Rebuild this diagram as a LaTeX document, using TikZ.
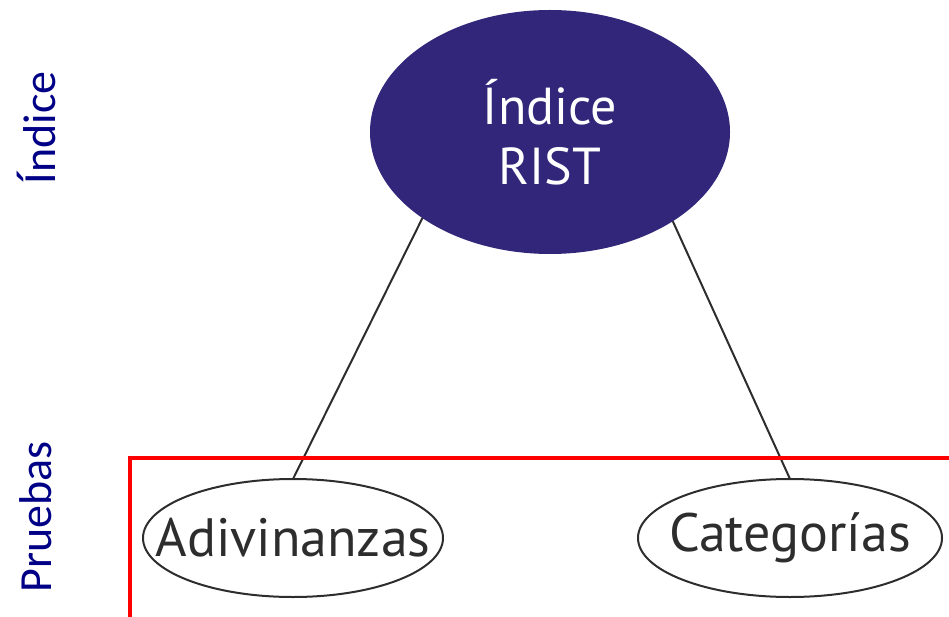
\documentclass[tikz,border=0pt]{standalone}
\usepackage{fontspec}
\setmainfont{PT Sans}
\newfontfamily\lblfont{Carlito}
\usepackage{tikz}
\usetikzlibrary{shapes.geometric}
\usepackage{xcolor}
\definecolor{ristblue}{RGB}{49,38,121}
\definecolor{lblnavy}{RGB}{0,0,135}
\definecolor{testgray}{RGB}{45,45,45}

\begin{document}
\begin{tikzpicture}[x=1pt,y=-1pt]

\tikzset{
topnode/.style = {ellipse, fill=ristblue, text=white, outer sep=0pt, inner sep=0pt,
	minimum width=360pt, minimum height=244pt, align=center,
	font=\fontsize{52}{60}\selectfont},
testnode/.style = {ellipse, draw=testgray, line width=2pt, text=testgray, outer sep=0pt,
	inner xsep=-40pt, inner ysep=0pt, minimum height=118pt, font=\fontsize{54}{60}\selectfont},
sidelabel/.style = {rotate=90, text=lblnavy, font=\lblfont\fontsize{46}{50}\selectfont}
}

\def\lwlink{2pt}
\def\lwbox{4.5pt}

\useasboundingbox (0,0) rectangle (949,617);

%\draw [help lines,step=50] (0,0) grid (949,617);

\node[sidelabel] (lblindice) at (36,128) {Índice};
\node[sidelabel] (lblpruebas) at (36,517) {Pruebas};

\node[topnode] (rist) at (550,132) {Índice\\RIST};

\node[testnode, minimum width=300pt] (adiv) at (293,538) {Adivinanzas};
\node[testnode, minimum width=304pt] (categ) at (790,538) {Categorías};

\draw[color=testgray, line width=\lwlink] (rist.214.7) -- (adiv.north);
\draw[color=testgray, line width=\lwlink] (rist.324.7) -- (categ.north);

\draw[color=red, line width=\lwbox] (130,620) -- (130,458) -- (952,458);

\end{tikzpicture}
\end{document}
